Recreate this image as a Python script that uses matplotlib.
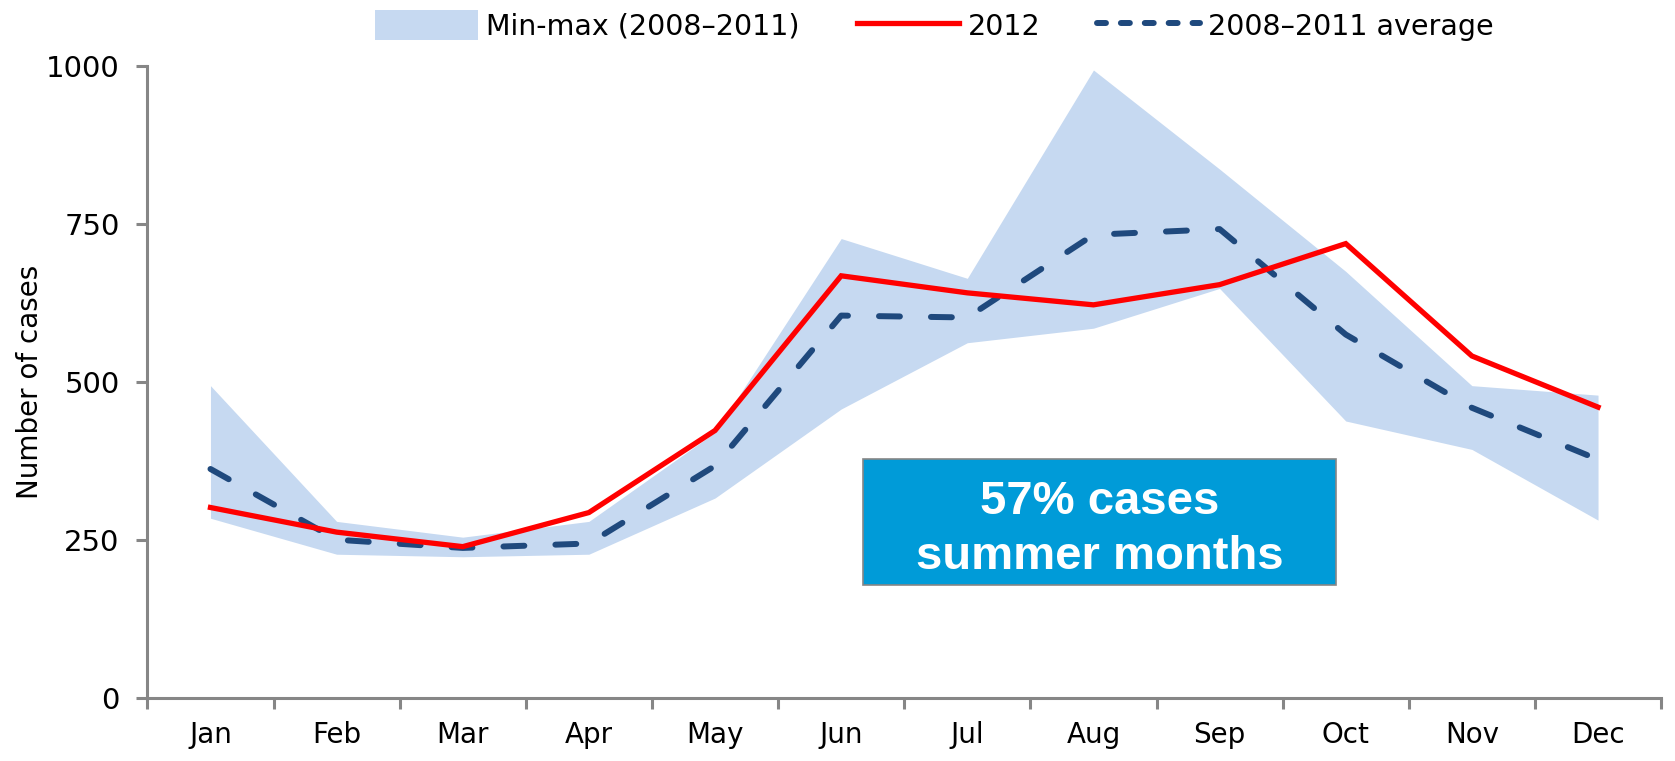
import numpy as np
import matplotlib
matplotlib.use("Agg")
import matplotlib.pyplot as plt
from matplotlib.patches import Patch, Rectangle
from matplotlib.lines import Line2D

months = ['Jan', 'Feb', 'Mar', 'Apr', 'May', 'Jun', 'Jul', 'Aug', 'Sep', 'Oct', 'Nov', 'Dec']
cases2012 = [301, 262, 239, 293, 423, 668, 641, 622, 654, 719, 541, 460]
avg0811 = [362, 250, 237, 244, 367, 605, 602, 733, 742, 575, 459, 377]
max0811 = [494, 279, 254, 279, 420, 727, 664, 994, 837, 675, 494, 479]
min0811 = [284, 227, 223, 227, 316, 457, 562, 585, 648, 438, 393, 281]
yticks = [0, 250, 500, 750, 1000]

FILL = '#c6d9f1'
RED = '#ff0000'
NAVY = '#1f497d'
GREY = '#868686'

def main():
    fig = plt.figure(figsize=(16.75, 7.61), dpi=100)
    ax = fig.add_axes([0.088, 0.0834, 0.9037, 0.8296])
    x = np.arange(len(months))

    ax.fill_between(x, min0811, max0811, color=FILL, lw=0, zorder=1)
    ax.plot(x, cases2012, color=RED, lw=3.8, solid_joinstyle='miter', zorder=3)
    ax.plot(x, avg0811, color=NAVY, lw=4.3, dashes=(3.5, 5.2),
            dash_capstyle='round', zorder=2)

    ax.set_xlim(-0.5, len(months) - 0.5)
    ax.set_ylim(0, 1000)
    ax.set_yticks(yticks)
    ax.set_yticklabels([str(v) for v in yticks], fontsize=21)
    ax.set_xticks(x)
    ax.set_xticklabels(months, fontsize=20)
    ax.set_xticks(np.arange(-0.5, len(months)), minor=True)
    ax.tick_params(axis='x', which='major', length=0, pad=17)
    ax.tick_params(axis='x', which='minor', length=8, width=2.2, color=GREY, direction='out')
    ax.tick_params(axis='y', length=8, width=2.2, color=GREY, direction='out', pad=12)

    for side in ['top', 'right']:
        ax.spines[side].set_visible(False)
    for side in ['left', 'bottom']:
        ax.spines[side].set_color(GREY)
        ax.spines[side].set_linewidth(2.2)

    ax.set_ylabel('Number of cases', fontsize=20, labelpad=1)

    # summer annotation box
    ax.add_patch(Rectangle((0.473, 0.178), 0.3125, 0.1995, transform=ax.transAxes,
                           fc='#009bd8', ec=GREY, lw=1.2, zorder=5))
    ax.text(0.629, 0.266, '57% cases\nsummer months', transform=ax.transAxes,
            ha='center', va='center', fontsize=34, fontweight='bold',
            family='Liberation Sans', color='white', linespacing=1.3, zorder=6)

    handles = [
        Patch(facecolor=FILL, edgecolor='none', label='Min-max (2008\u20132011)'),
        Line2D([], [], color=RED, lw=3.8, label='2012'),
        Line2D([], [], color=NAVY, lw=4.3, dashes=(1.5, 2.5), dash_capstyle='round',
               label='2008\u20132011 average'),
    ]
    fig.legend(handles=handles, loc='upper center', bbox_to_anchor=(0.558, 1.02),
               ncol=3, frameon=False, fontsize=20.5, handlelength=3.6,
               handleheight=1.2, columnspacing=2.0, handletextpad=0.3)

    fig.savefig('out.png', dpi=100)


if __name__ == '__main__':
    main()
